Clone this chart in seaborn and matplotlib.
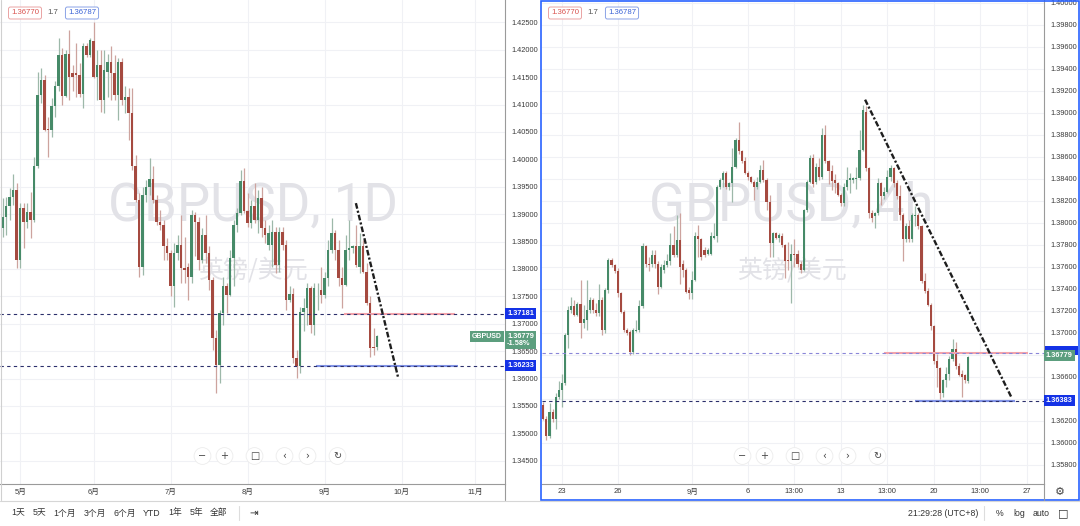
import matplotlib
matplotlib.use("Agg")
import numpy as np
import pandas as pd
import matplotlib.pyplot as plt
import seaborn as sns
from matplotlib.patches import Rectangle
from matplotlib.lines import Line2D

# ---- daily GBPUSD (left panel) ----
d_open = [1.3874, 1.3895, 1.3914, 1.3932, 1.3944, 1.3817, 1.3911, 1.3886, 1.3903, 1.3889,
          1.3987, 1.4117, 1.4145, 1.4055, 1.4054, 1.4097, 1.4133, 1.4190, 1.4116, 1.4193,
          1.4157, 1.4157, 1.4154, 1.4120, 1.4206, 1.4190, 1.4215, 1.4151, 1.4172, 1.4108,
          1.4160, 1.4178, 1.4157, 1.4117, 1.4178, 1.4108, 1.4113, 1.4084, 1.3987, 1.3926,
          1.3804, 1.3935, 1.3950, 1.3964, 1.3926, 1.3886, 1.3880, 1.3841, 1.3829, 1.3768,
          1.3829, 1.3844, 1.3801, 1.3803, 1.3786, 1.3898, 1.3886, 1.3817, 1.3862, 1.3829,
          1.3780, 1.3674, 1.3625, 1.3719, 1.3768, 1.3753, 1.3820, 1.3880, 1.3902, 1.3960,
          1.3905, 1.3883, 1.3915, 1.3889, 1.3929, 1.3874, 1.3844, 1.3844, 1.3868, 1.3807,
          1.3868, 1.3844, 1.3743, 1.3754, 1.3637, 1.3622, 1.3722, 1.3728, 1.3765, 1.3698,
          1.3761, 1.3762, 1.3753, 1.3783, 1.3835, 1.3865, 1.3835, 1.3783, 1.3771, 1.3835,
          1.3838, 1.3841, 1.3804, 1.3841, 1.3795, 1.3737, 1.3658, 1.3658]
d_high = [1.3929, 1.3932, 1.3947, 1.3974, 1.3956, 1.3920, 1.3920, 1.3920, 1.3941, 1.4005,
          1.4160, 1.4166, 1.4154, 1.4078, 1.4111, 1.4142, 1.4221, 1.4203, 1.4199, 1.4236,
          1.4172, 1.4212, 1.4175, 1.4212, 1.4212, 1.4221, 1.4251, 1.4199, 1.4199, 1.4199,
          1.4193, 1.4206, 1.4190, 1.4184, 1.4184, 1.4133, 1.4130, 1.4130, 1.4008, 1.3938,
          1.3950, 1.3962, 1.4002, 1.3987, 1.3935, 1.3908, 1.3889, 1.3856, 1.3835, 1.3847,
          1.3862, 1.3898, 1.3859, 1.3810, 1.3908, 1.3904, 1.3895, 1.3874, 1.3898, 1.3841,
          1.3786, 1.3689, 1.3725, 1.3786, 1.3774, 1.3835, 1.3889, 1.3911, 1.3981, 1.3984,
          1.3938, 1.3926, 1.3956, 1.3944, 1.3950, 1.3889, 1.3880, 1.3889, 1.3877, 1.3877,
          1.3877, 1.3853, 1.3768, 1.3765, 1.3652, 1.3731, 1.3747, 1.3774, 1.3768, 1.3774,
          1.3774, 1.3804, 1.3795, 1.3853, 1.3893, 1.3871, 1.3853, 1.3804, 1.3862, 1.3889,
          1.3844, 1.3880, 1.3865, 1.3853, 1.3810, 1.3750, 1.3692, 1.3680]
d_low = [1.3859, 1.3862, 1.3889, 1.3917, 1.3801, 1.3801, 1.3838, 1.3874, 1.3856, 1.3886,
         1.3984, 1.4102, 1.4051, 1.4005, 1.4041, 1.4078, 1.4124, 1.4099, 1.4114, 1.4108,
         1.4124, 1.4114, 1.4114, 1.4093, 1.4187, 1.4187, 1.4148, 1.4108, 1.4087, 1.4084,
         1.4114, 1.4108, 1.4108, 1.4072, 1.4099, 1.4084, 1.4035, 1.3981, 1.3923, 1.3786,
         1.3789, 1.3923, 1.3935, 1.3920, 1.3880, 1.3871, 1.3817, 1.3817, 1.3750, 1.3731,
         1.3817, 1.3774, 1.3774, 1.3743, 1.3774, 1.3823, 1.3798, 1.3811, 1.3811, 1.3762,
         1.3652, 1.3573, 1.3591, 1.3698, 1.3719, 1.3750, 1.3768, 1.3868, 1.3899, 1.3902,
         1.3877, 1.3874, 1.3883, 1.3865, 1.3859, 1.3847, 1.3835, 1.3804, 1.3792, 1.3795,
         1.3835, 1.3725, 1.3740, 1.3628, 1.3601, 1.3610, 1.3686, 1.3698, 1.3683, 1.3680,
         1.3725, 1.3737, 1.3747, 1.3768, 1.3829, 1.3817, 1.3768, 1.3728, 1.3768, 1.3817,
         1.3829, 1.3804, 1.3792, 1.3792, 1.3734, 1.3640, 1.3643, 1.3652]
d_close = [1.3895, 1.3914, 1.3932, 1.3944, 1.3817, 1.3911, 1.3886, 1.3903, 1.3889, 1.3987,
           1.4117, 1.4145, 1.4054, 1.4053, 1.4097, 1.4133, 1.4190, 1.4116, 1.4193, 1.4151,
           1.4151, 1.4154, 1.4120, 1.4206, 1.4190, 1.4217, 1.4151, 1.4172, 1.4108, 1.4163,
           1.4178, 1.4157, 1.4117, 1.4178, 1.4108, 1.4113, 1.4084, 1.3987, 1.3926, 1.3804,
           1.3935, 1.3950, 1.3964, 1.3926, 1.3886, 1.3880, 1.3841, 1.3829, 1.3768, 1.3829,
           1.3844, 1.3801, 1.3798, 1.3786, 1.3898, 1.3886, 1.3817, 1.3862, 1.3829, 1.3780,
           1.3674, 1.3625, 1.3719, 1.3768, 1.3753, 1.3820, 1.3880, 1.3902, 1.3960, 1.3905,
           1.3883, 1.3915, 1.3889, 1.3929, 1.3874, 1.3862, 1.3865, 1.3868, 1.3807, 1.3868,
           1.3844, 1.3743, 1.3754, 1.3637, 1.3622, 1.3722, 1.3728, 1.3765, 1.3698, 1.3765,
           1.3762, 1.3753, 1.3783, 1.3835, 1.3865, 1.3835, 1.3783, 1.3771, 1.3835, 1.3838,
           1.3841, 1.3807, 1.3841, 1.3795, 1.3737, 1.3655, 1.3655, 1.3677]
d_month_pos = [5, 26, 48, 70, 92, 114, 135]
d_month_labels = ["5月", "6月", "7月", "8月", "9月", "10月", "11月"]

# ---- 4h GBPUSD (right panel) ----
h_open = [1.3634, 1.3622, 1.3606, 1.3628, 1.3622, 1.3642, 1.3648, 1.3654, 1.3698, 1.3721,
          1.3724, 1.3716, 1.3726, 1.3709, 1.3712, 1.3721, 1.3730, 1.3721, 1.3718, 1.3730,
          1.3703, 1.3739, 1.3766, 1.3762, 1.3756, 1.3736, 1.3719, 1.3703, 1.3701, 1.3683,
          1.3702, 1.3703, 1.3724, 1.3779, 1.3763, 1.3763, 1.3771, 1.3763, 1.3742, 1.3757,
          1.3762, 1.3765, 1.3780, 1.3771, 1.3784, 1.3763, 1.3757, 1.3739, 1.3736, 1.3748,
          1.3788, 1.3785, 1.3775, 1.3772, 1.3772, 1.3786, 1.3788, 1.3833, 1.3839, 1.3845,
          1.3833, 1.3836, 1.3851, 1.3875, 1.3865, 1.3856, 1.3845, 1.3842, 1.3837, 1.3833,
          1.3837, 1.3848, 1.3839, 1.3819, 1.3782, 1.3791, 1.3786, 1.3788, 1.3780, 1.3766,
          1.3765, 1.3772, 1.3772, 1.3763, 1.3757, 1.3812, 1.3837, 1.3859, 1.3837, 1.3851,
          1.3842, 1.3880, 1.3856, 1.3847, 1.3839, 1.3836, 1.3825, 1.3818, 1.3833, 1.3839,
          1.3839, 1.3840, 1.3841, 1.3866, 1.3901, 1.3850, 1.3809, 1.3806, 1.3809, 1.3836,
          1.3824, 1.3828, 1.3842, 1.3850, 1.3836, 1.3824, 1.3807, 1.3785, 1.3797, 1.3785,
          1.3806, 1.3807, 1.3797, 1.3747, 1.3738, 1.3725, 1.3706, 1.3674, 1.3668, 1.3645,
          1.3657, 1.3663, 1.3676, 1.3685, 1.3670, 1.3663, 1.3662, 1.3656]
h_high = [1.3637, 1.3624, 1.3636, 1.3631, 1.3645, 1.3656, 1.3663, 1.3700, 1.3724, 1.3733,
          1.3730, 1.3728, 1.3748, 1.3725, 1.3748, 1.3733, 1.3732, 1.3727, 1.3744, 1.3733,
          1.3741, 1.3768, 1.3768, 1.3763, 1.3759, 1.3737, 1.3721, 1.3704, 1.3703, 1.3704,
          1.3712, 1.3730, 1.3782, 1.3780, 1.3769, 1.3775, 1.3775, 1.3765, 1.3763, 1.3766,
          1.3772, 1.3791, 1.3797, 1.3807, 1.3809, 1.3766, 1.3759, 1.3742, 1.3756, 1.3792,
          1.3798, 1.3786, 1.3778, 1.3777, 1.3792, 1.3800, 1.3834, 1.3841, 1.3847, 1.3847,
          1.3837, 1.3868, 1.3877, 1.3892, 1.3866, 1.3860, 1.3847, 1.3843, 1.3839, 1.3842,
          1.3853, 1.3857, 1.3841, 1.3825, 1.3792, 1.3792, 1.3791, 1.3791, 1.3781, 1.3783,
          1.3781, 1.3785, 1.3775, 1.3765, 1.3813, 1.3839, 1.3862, 1.3863, 1.3854, 1.3859,
          1.3886, 1.3889, 1.3857, 1.3853, 1.3844, 1.3837, 1.3827, 1.3836, 1.3851, 1.3845,
          1.3842, 1.3851, 1.3884, 1.3907, 1.3906, 1.3851, 1.3812, 1.3810, 1.3841, 1.3837,
          1.3833, 1.3848, 1.3853, 1.3851, 1.3839, 1.3834, 1.3809, 1.3800, 1.3803, 1.3809,
          1.3815, 1.3809, 1.3798, 1.3754, 1.3741, 1.3727, 1.3707, 1.3681, 1.3669, 1.3658,
          1.3669, 1.3679, 1.3694, 1.3692, 1.3673, 1.3666, 1.3663, 1.3679]
h_low = [1.3621, 1.3603, 1.3604, 1.3619, 1.3613, 1.3640, 1.3633, 1.3653, 1.3686, 1.3718,
         1.3715, 1.3715, 1.3695, 1.3704, 1.3703, 1.3718, 1.3718, 1.3715, 1.3715, 1.3698,
         1.3700, 1.3736, 1.3760, 1.3754, 1.3733, 1.3718, 1.3701, 1.3698, 1.3680, 1.3681,
         1.3701, 1.3701, 1.3723, 1.3760, 1.3756, 1.3760, 1.3759, 1.3735, 1.3741, 1.3754,
         1.3760, 1.3762, 1.3769, 1.3769, 1.3744, 1.3751, 1.3736, 1.3731, 1.3731, 1.3747,
         1.3769, 1.3766, 1.3769, 1.3771, 1.3771, 1.3785, 1.3783, 1.3831, 1.3833, 1.3831,
         1.3830, 1.3819, 1.3850, 1.3863, 1.3854, 1.3844, 1.3839, 1.3836, 1.3821, 1.3831,
         1.3836, 1.3837, 1.3812, 1.3769, 1.3769, 1.3785, 1.3783, 1.3778, 1.3750, 1.3757,
         1.3727, 1.3760, 1.3760, 1.3754, 1.3756, 1.3810, 1.3836, 1.3833, 1.3835, 1.3839,
         1.3840, 1.3854, 1.3835, 1.3830, 1.3827, 1.3824, 1.3815, 1.3815, 1.3830, 1.3827,
         1.3836, 1.3831, 1.3839, 1.3865, 1.3847, 1.3804, 1.3801, 1.3795, 1.3807, 1.3816,
         1.3822, 1.3827, 1.3838, 1.3833, 1.3822, 1.3803, 1.3765, 1.3783, 1.3783, 1.3783,
         1.3797, 1.3794, 1.3745, 1.3736, 1.3724, 1.3703, 1.3672, 1.3651, 1.3640, 1.3642,
         1.3651, 1.3657, 1.3674, 1.3667, 1.3661, 1.3642, 1.3654, 1.3654]
h_close = [1.3622, 1.3606, 1.3628, 1.3622, 1.3642, 1.3648, 1.3654, 1.3698, 1.3721, 1.3724,
           1.3716, 1.3726, 1.3709, 1.3713, 1.3721, 1.3730, 1.3721, 1.3718, 1.3730, 1.3703,
           1.3739, 1.3766, 1.3762, 1.3756, 1.3736, 1.3719, 1.3703, 1.3700, 1.3683, 1.3703,
           1.3703, 1.3724, 1.3779, 1.3763, 1.3762, 1.3771, 1.3763, 1.3742, 1.3760, 1.3762,
           1.3765, 1.3780, 1.3771, 1.3784, 1.3760, 1.3757, 1.3737, 1.3736, 1.3748, 1.3788,
           1.3785, 1.3769, 1.3771, 1.3775, 1.3788, 1.3788, 1.3833, 1.3839, 1.3845, 1.3833,
           1.3836, 1.3851, 1.3875, 1.3865, 1.3856, 1.3845, 1.3842, 1.3837, 1.3833, 1.3837,
           1.3848, 1.3839, 1.3819, 1.3782, 1.3791, 1.3786, 1.3789, 1.3780, 1.3765, 1.3765,
           1.3772, 1.3771, 1.3763, 1.3757, 1.3812, 1.3837, 1.3859, 1.3835, 1.3851, 1.3842,
           1.3880, 1.3856, 1.3847, 1.3838, 1.3836, 1.3825, 1.3818, 1.3833, 1.3839, 1.3841,
           1.3841, 1.3841, 1.3866, 1.3903, 1.3850, 1.3809, 1.3804, 1.3809, 1.3836, 1.3824,
           1.3828, 1.3842, 1.3850, 1.3836, 1.3824, 1.3807, 1.3785, 1.3797, 1.3785, 1.3807,
           1.3807, 1.3797, 1.3747, 1.3738, 1.3725, 1.3706, 1.3674, 1.3668, 1.3645, 1.3657,
           1.3663, 1.3676, 1.3685, 1.3670, 1.3662, 1.3660, 1.3657, 1.3678]
h_tick_pos = [6, 24, 48, 66, 81, 96, 111, 126, 141, 156]
h_tick_labels = ["23", "26", "9月", "6", "13:00", "13", "13:00", "20", "13:00", "27"]
# price labels hidden under the tags on the right axis
h_hidden_ticks = [1.364, 1.368]

# drawings: (bar index, price) pairs and horizontal levels
d_trend = [(100.9, 1.3920), (113.0, 1.3601)]
d_levels = [1.37181, 1.36233]
d_level_spans = [(97.4, 129.3), (89.5, 130.1)]
h_trend = [(103.8, 1.3912), (150.9, 1.3642)]
h_levels = [1.36817, 1.36383]
h_level_spans = [(109.8, 156.5), (119.8, 152.0)]

UP, DOWN = "#468a68", "#a54a40"
UP_WICK, DOWN_WICK = "#9db8a9", "#cda39e"
TAG_BLUE, TAG_GREEN = "#1432e6", "#5c9e7e"
GRID = "#f0f1f5"
AXLINE = "#9a9a9a"

sns.set_theme(style="white")
plt.rcParams['font.family'] = ['Liberation Sans', 'Noto Sans CJK SC', 'DejaVu Sans']
plt.rcParams['axes.unicode_minus'] = False

W, H = 1080, 526


def fx(x):
    return x / W


def fy(y):
    return 1 - y / H


def draw_candles(ax, df, width, min_body):
    up = df["close"] >= df["open"]
    ax.vlines(df.index, df["low"], df["high"],
              colors=np.where(up, UP_WICK, DOWN_WICK), lw=0.9, zorder=3)
    bottom = df[["open", "close"]].min(axis=1)
    height = (df["close"] - df["open"]).abs().clip(lower=min_body)
    ax.bar(df.index, height, bottom=bottom, width=width,
           color=np.where(up, UP, DOWN), lw=0, zorder=4)


def style_axis(ax, xlim, ylim, yticks, xticks, xlabels, hidden=()):
    ax.set_xlim(*xlim)
    ax.set_ylim(*ylim)
    ax.yaxis.tick_right()
    ax.set_yticks(yticks)
    ax.set_yticklabels(["" if any(abs(v - h) < 1e-6 for h in hidden) else "%.5f" % v
                        for v in yticks])
    ax.set_xticks(xticks)
    ax.set_xticklabels(xlabels)
    ax.tick_params(axis="y", length=0, labelsize=5.3, colors="#3a3a3a", pad=4.5)
    ax.tick_params(axis="x", length=0, labelsize=5.5, colors="#3a3a3a", pad=3.2)
    ax.grid(True, color=GRID, lw=0.8)
    ax.set_axisbelow(True)
    ax.set_facecolor("white")
    for s in ["top", "left"]:
        ax.spines[s].set_visible(False)
    for s in ["right", "bottom"]:
        ax.spines[s].set_color(AXLINE)
        ax.spines[s].set_linewidth(0.8)


def draw_levels(ax, levels, spans, colors, span_colors):
    for lvl, (a, b), c, sc in zip(levels, spans, colors, span_colors):
        ax.plot([a, b], [lvl, lvl], color=sc, lw=1.5, zorder=5, solid_capstyle="butt")
        ax.axhline(lvl, color=c, lw=0.8, ls=(0, (3, 3)), zorder=6)


def tag(ax, price, text, fc, x=1.004, ha="left", size=5.3):
    ax.text(x, price, text, transform=ax.get_yaxis_transform(), ha=ha, va="center",
            fontsize=size, color="white", fontweight="bold", clip_on=False, zorder=20,
            linespacing=1.05,
            bbox=dict(boxstyle="square,pad=0.28", fc=fc, ec="none"))


d_df = pd.DataFrame({"open": d_open, "high": d_high, "low": d_low, "close": d_close})
h_df = pd.DataFrame({"open": h_open, "high": h_high, "low": h_low, "close": h_close})

fig = plt.figure(figsize=(10.8, 5.26), dpi=100)
fig.patch.set_facecolor("white")

ax_d = fig.add_axes([fx(0), fy(484), 505 / W, 484 / H])
ax_h = fig.add_axes([fx(542), fy(484), 501.8 / W, 484 / H])

# ---- left: daily ----
style_axis(ax_d, (-0.77, 143.5), (1.34075, 1.42907),
           np.arange(1.345, 1.4251, 0.005), d_month_pos, d_month_labels)
ax_d.text(0.5, 0.574, "GBPUSD, 1D", transform=ax_d.transAxes, ha="center", va="center",
          fontsize=38, color="#e2e2e7", family="Roboto", zorder=1)
ax_d.text(0.5, 0.442, "英镑/美元", transform=ax_d.transAxes, ha="center", va="center",
          fontsize=18, color="#e2e2e7", family="Noto Sans CJK SC", zorder=1)
draw_candles(ax_d, d_df, 0.72, 0.00012)
draw_levels(ax_d, d_levels, d_level_spans, ["#2b2f6b", "#2b2f6b"], ["#f3a3ab", "#8193e6"])
ax_d.plot(*zip(*d_trend), color="#1e1e1e", lw=1.7, ls=(0, (2.4, 0.9, 0.9, 0.9)), zorder=7)
tag(ax_d, 1.37181, "1.37181", TAG_BLUE)
tag(ax_d, 1.36233, "1.36233", TAG_BLUE)
tag(ax_d, 1.36703, "1.36779\n-1.58%", TAG_GREEN)
tag(ax_d, 1.36763, "GBPUSD", TAG_GREEN, x=0.994, ha="right", size=5)

# ---- right: 4h ----
style_axis(ax_h, (-0.42, 161.45), (1.35626, 1.40026),
           np.arange(1.358, 1.4001, 0.002), h_tick_pos, h_tick_labels, h_hidden_ticks)
ax_h.text(0.497, 0.574, "GBPUSD, 4h", transform=ax_h.transAxes, ha="center", va="center",
          fontsize=38, color="#e2e2e7", family="Roboto", zorder=1)
ax_h.text(0.498, 0.442, "英镑/美元", transform=ax_h.transAxes, ha="center", va="center",
          fontsize=18, color="#e2e2e7", family="Noto Sans CJK SC", zorder=1)
draw_candles(ax_h, h_df, 0.66, 0.00006)
draw_levels(ax_h, h_levels, h_level_spans, ["#8a86d8", "#2b2f6b"], ["#f3a3ab", "#8193e6"])
ax_h.plot(*zip(*h_trend), color="#1e1e1e", lw=1.7, ls=(0, (2.4, 0.9, 0.9, 0.9)), zorder=7)
# the 1.36817 level tag sits almost fully behind the last-price tag
ax_h.add_patch(Rectangle((1.002, 1.36800), 0.066, 0.00085, transform=ax_h.get_yaxis_transform(),
                         fc=TAG_BLUE, ec="none", clip_on=False, zorder=19))
tag(ax_h, 1.36794, "1.36779", TAG_GREEN)
tag(ax_h, 1.36383, "1.36383", TAG_BLUE)

# ---- chrome around the charts ----
for x0 in (505, 1043.8):
    fig.add_artist(Line2D([fx(x0), fx(x0)], [fy(484), fy(500)], color=AXLINE, lw=0.8))
fig.add_artist(Line2D([0, 1], [fy(500.5), fy(500.5)], color="#d6d6d6", lw=0.8))
fig.add_artist(Line2D([fx(0.5), fx(0.5)], [fy(0), fy(500)], color="#d0d0d0", lw=0.8))
fig.add_artist(Rectangle((fx(541), fy(499.5)), 538 / W, 499 / H, transform=fig.transFigure,
                         fill=False, ec="#2962ff", lw=1.2))

# legend boxes at top-left of each chart
for off in (0, 540):
    fig.text(fx(25 + off), fy(13), "1.36770", ha="center", va="center", fontsize=5.6,
             color="#d9534f", bbox=dict(boxstyle="round,pad=0.32,rounding_size=0.25",
                                        fc="white", ec="#eaa3a3", lw=0.7))
    fig.text(fx(53 + off), fy(13), "1.7", ha="center", va="center", fontsize=5.6, color="#555555")
    fig.text(fx(82 + off), fy(13), "1.36787", ha="center", va="center", fontsize=5.6,
             color="#3b63d6", bbox=dict(boxstyle="round,pad=0.32,rounding_size=0.25",
                                        fc="white", ec="#8aa2e6", lw=0.7))

# navigation buttons
nav = [(0, "−"), (22, "+"), (52, "□"), (82, "‹"), (105, "›"), (135, "↻")]
for base in (202.5, 742.5):
    for dx, glyph in nav:
        fig.text(fx(base + dx), fy(456), glyph, ha="center", va="center", fontsize=7,
                 color="#444444", family="DejaVu Sans",
                 bbox=dict(boxstyle="circle,pad=0.35", fc="white", ec="#ececec", lw=0.6))

# bottom toolbar
bottom_items = [(18, "1天"), (39, "5天"), (65, "1个月"), (95, "3个月"), (125, "6个月"),
                (152, "YTD"), (175, "1年"), (196, "5年"), (219, "全部")]
for x0, s in bottom_items:
    fig.text(fx(x0), fy(513), s, ha="center", va="center", fontsize=6.3, color="#333333")
fig.add_artist(Line2D([fx(238.5), fx(238.5)], [fy(506), fy(520)], color="#dddddd", lw=0.8))
fig.text(fx(254), fy(513), "⇥", ha="center", va="center", fontsize=7.5, color="#333333",
         family="DejaVu Sans")
fig.text(fx(943), fy(513), "21:29:28 (UTC+8)", ha="center", va="center", fontsize=6.3,
         color="#333333")
fig.add_artist(Line2D([fx(984), fx(984)], [fy(506), fy(520)], color="#dddddd", lw=0.8))
for x0, s in [(1000, "%"), (1019, "log"), (1041, "auto")]:
    fig.text(fx(x0), fy(513), s, ha="center", va="center", fontsize=6.3, color="#333333")
fig.text(fx(1063), fy(513), "□", ha="center", va="center", fontsize=8, color="#333333",
         family="DejaVu Sans")
fig.text(fx(1060), fy(492), "⚙", ha="center", va="center", fontsize=8, color="#444444",
         family="DejaVu Sans")

fig.savefig("out.png", dpi=100, facecolor="white")
